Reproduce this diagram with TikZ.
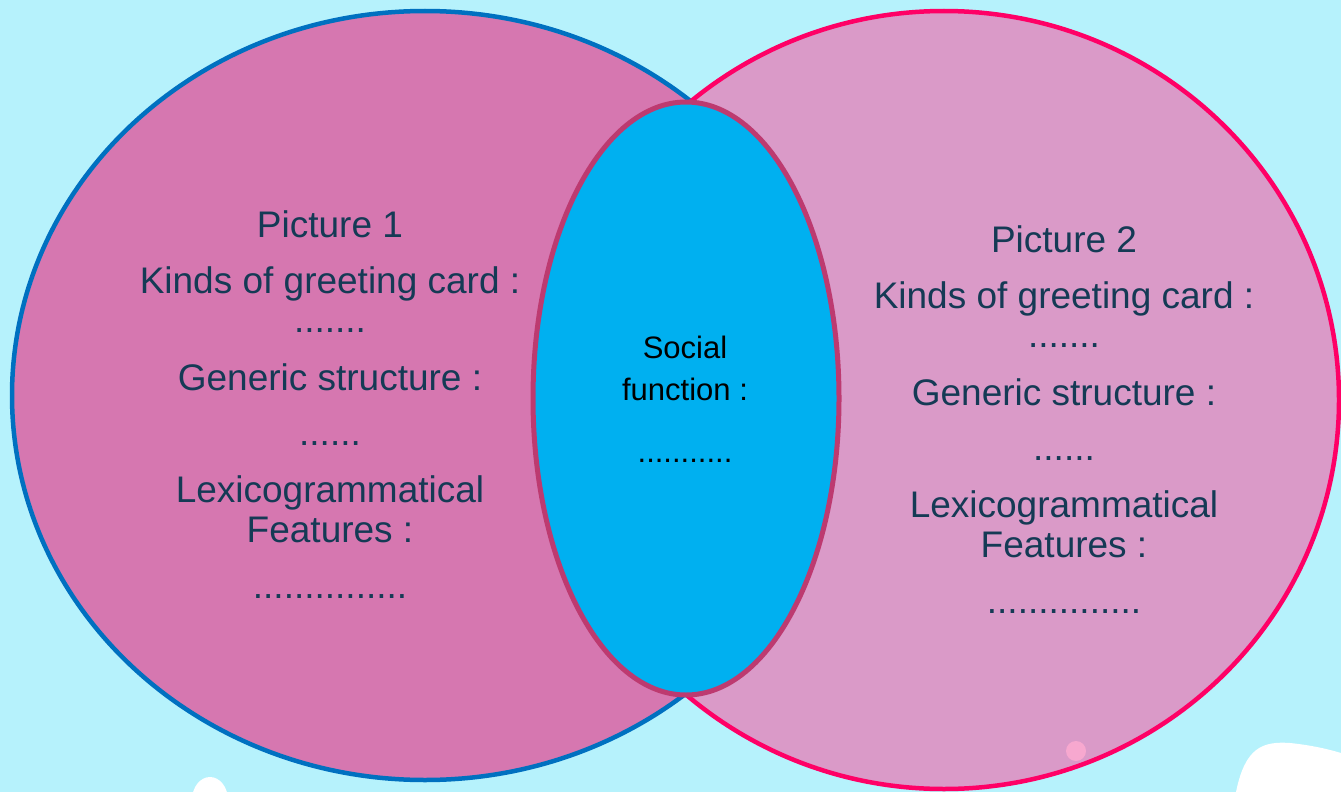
\documentclass[tikz,border=0pt]{standalone}
\usepackage{fontspec}
\setmainfont{Liberation Sans}
\usetikzlibrary{shapes.geometric}
\definecolor{bgcyan}{HTML}{B6F2FC}
\definecolor{leftfill}{HTML}{D677B0}
\definecolor{rightfill}{HTML}{DA9AC8}
\definecolor{midfill}{HTML}{00B0F0}
\definecolor{leftline}{HTML}{0070C0}
\definecolor{rightline}{HTML}{FF0066}
\definecolor{midline}{HTML}{BD3A70}
\definecolor{dotpink}{HTML}{F7A8CF}
\definecolor{navytext}{HTML}{153A55}
\tikzset{
  bubble/.style={ellipse, inner sep=0pt, outer sep=0pt},
  sidetext/.style={font=\fontsize{37}{40}\selectfont, text=navytext, anchor=base, inner sep=0pt},
  midtext/.style={font=\fontsize{31}{36}\selectfont, text=black, anchor=base, inner sep=0pt}
}
\begin{document}
\begin{tikzpicture}[x=1pt,y=-1pt]
\useasboundingbox (0,0) rectangle (1341,792);
\fill[bgcyan] (0,0) rectangle (1341,792);
% decorative white blobs
\fill[white] (210,800) ellipse [x radius=18, y radius=23];
% Venn ellipses
\node[bubble, draw=leftline, fill=leftfill, line width=4.5pt, minimum width=826pt, minimum height=769pt] (leftset) at (425,395.5) {};
\node[bubble, draw=rightline, fill=rightfill, line width=4.5pt, minimum width=790pt, minimum height=778pt] (rightset) at (944,400) {};
\node[bubble, draw=midline, fill=midfill, line width=5pt, minimum width=306pt, minimum height=593pt] (midset) at (686,398.5) {};
\fill[dotpink] (1076,751) circle [radius=10];
\fill[white] (1236,792) .. controls (1245,748) and (1262,741) .. (1290,743) .. controls (1310,745) and (1328,749) .. (1341,753) -- (1341,792) -- cycle;
% left texts
\node[sidetext] (p1title) at (330,237) {Picture 1};
\node[sidetext] (p1kinds) at (330,293) {Kinds of greeting card :};
\node[sidetext] (p1kdots) at (330,332) {.......};
\node[sidetext] (p1gen) at (330,390) {Generic structure :};
\node[sidetext] (p1gdots) at (330,445) {......};
\node[sidetext] (p1lex) at (330,502) {Lexicogrammatical};
\node[sidetext] (p1feat) at (330,542) {Features :};
\node[sidetext] (p1fdots) at (330,598) {...............};
% right texts
\node[sidetext] (p2title) at (1064,252) {Picture 2};
\node[sidetext] (p2kinds) at (1064,308) {Kinds of greeting card :};
\node[sidetext] (p2kdots) at (1064,347) {.......};
\node[sidetext] (p2gen) at (1064,405) {Generic structure :};
\node[sidetext] (p2gdots) at (1064,460) {......};
\node[sidetext] (p2lex) at (1064,517) {Lexicogrammatical};
\node[sidetext] (p2feat) at (1064,557) {Features :};
\node[sidetext] (p2fdots) at (1064,613) {...............};
% middle texts
\node[midtext] (sftitle) at (685,358) {Social};
\node[midtext] (sffunc) at (685,400) {function :};
\node[midtext] (sfdots) at (685,462) {...........};
\end{tikzpicture}
\end{document}
